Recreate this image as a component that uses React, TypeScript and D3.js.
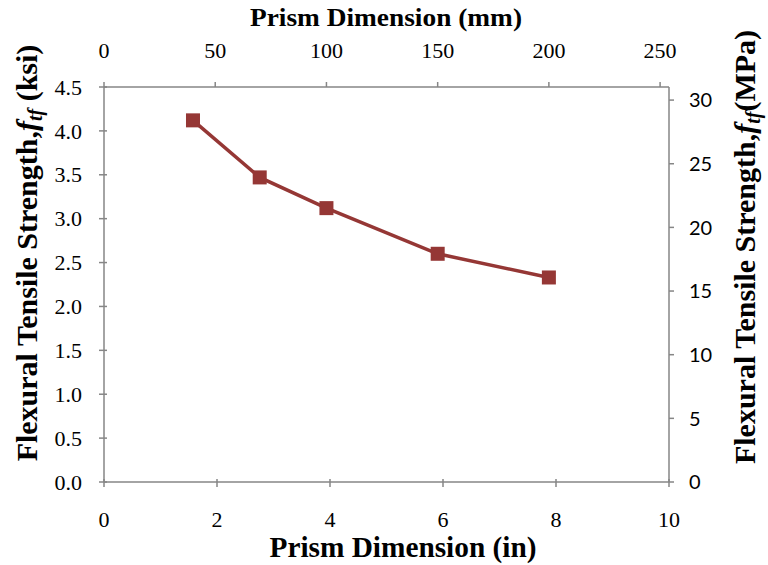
import React from "react";
import * as d3 from "d3";

const sizesIn = [1.575, 2.756, 3.937, 5.906, 7.874];
const strengthKsi = [4.12, 3.47, 3.12, 2.6, 2.33];
const bottomTicks = [0, 2, 4, 6, 8, 10];
const topTicks = [0, 50, 100, 150, 200, 250];
const leftTicks = [0, 0.5, 1, 1.5, 2, 2.5, 3, 3.5, 4, 4.5];
const rightTicks = [0, 5, 10, 15, 20, 25, 30];

const W = 768, H = 565;
const L = 104, R = 669, T = 87, B = 482;
const axisColor = "#868686";
const lineColor = "#953735";
const serif: React.CSSProperties = { fontFamily: "Liberation Serif" };
const sans: React.CSSProperties = { fontFamily: "Lato" };

export default function App() {
  const x = d3.scaleLinear().domain([0, 10]).range([L, R]);
  const xTop = d3.scaleLinear().domain([0, 254]).range([L, R]);
  const y = d3.scaleLinear().domain([0, 4.5]).range([B, T]);
  const yR = d3.scaleLinear().domain([0, 4.5 * 6.895]).range([B, T]);
  const pts = sizesIn.map((s, i) => [x(s), y(strengthKsi[i])] as [number, number]);
  const line = d3.line()(pts) || "";
  return (
    <svg width={W} height={H} style={{ position: "absolute", left: 0, top: 0, background: "#fff" }}>
      <rect x={0} y={0} width={W} height={H} fill="#fff" />
      <g stroke={axisColor} strokeWidth={1.5} fill="none">
        <line x1={L} x2={R} y1={B} y2={B} />
        <line x1={L} x2={R} y1={T} y2={T} />
        <line x1={L} x2={L} y1={T} y2={B} />
        <line x1={R} x2={R} y1={T} y2={B} />
        {bottomTicks.map((t) => (
          <line key={"b" + t} x1={x(t)} x2={x(t)} y1={B - 3} y2={B + 5} />
        ))}
        {topTicks.map((t) => (
          <line key={"t" + t} x1={xTop(t)} x2={xTop(t)} y1={T - 5} y2={T} />
        ))}
        {leftTicks.map((t) => (
          <line key={"l" + t} x1={L - 5} x2={L + 3} y1={y(t)} y2={y(t)} />
        ))}
        {rightTicks.map((t) => (
          <line key={"r" + t} x1={R} x2={R + 5} y1={yR(t)} y2={yR(t)} />
        ))}
      </g>
      {bottomTicks.map((t) => (
        <text key={"bl" + t} style={serif} fontSize={22} x={x(t)} y={527} textAnchor="middle">{t}</text>
      ))}
      {topTicks.map((t) => (
        <text key={"tl" + t} style={serif} fontSize={22} x={xTop(t)} y={58} textAnchor="middle">{t}</text>
      ))}
      {leftTicks.map((t) => (
        <text key={"ll" + t} style={serif} fontSize={22} x={82} y={y(t)} dy="0.35em" textAnchor="end">{t.toFixed(1)}</text>
      ))}
      {rightTicks.map((t) => (
        <text key={"rl" + t} style={sans} fontSize={20} x={689} y={yR(t)} dy="0.36em" textAnchor="start">{t}</text>
      ))}
      <text style={serif} fontWeight="bold" fontSize={26} x={386} y={26} textAnchor="middle" textLength={272} lengthAdjust="spacingAndGlyphs">Prism Dimension (mm)</text>
      <text style={serif} fontWeight="bold" fontSize={29} x={403} y={557} textAnchor="middle" textLength={267} lengthAdjust="spacingAndGlyphs">Prism Dimension (in)</text>
      <text style={serif} fontWeight="bold" fontSize={30} transform={`translate(37, 253) rotate(-90)`} textAnchor="middle">
        Flexural Tensile Strength,<tspan fontStyle="italic">f</tspan>
        <tspan fontStyle="italic" fontSize={20} dy={5}>tf</tspan>
        <tspan dy={-5}> (ksi)</tspan>
      </text>
      <text style={serif} fontWeight="bold" fontSize={30} transform={`translate(755, 247) rotate(-90)`} textAnchor="middle">
        Flexural Tensile Strength,<tspan fontStyle="italic">f</tspan>
        <tspan fontStyle="italic" fontSize={20} dy={5}>tf</tspan>
        <tspan dy={-5}>(MPa)</tspan>
      </text>
      <path d={line} fill="none" stroke={lineColor} strokeWidth={3.5} />
      {pts.map((p, i) => (
        <rect key={i} x={p[0] - 7} y={p[1] - 7} width={14} height={14} fill={lineColor} />
      ))}
    </svg>
  );
}
